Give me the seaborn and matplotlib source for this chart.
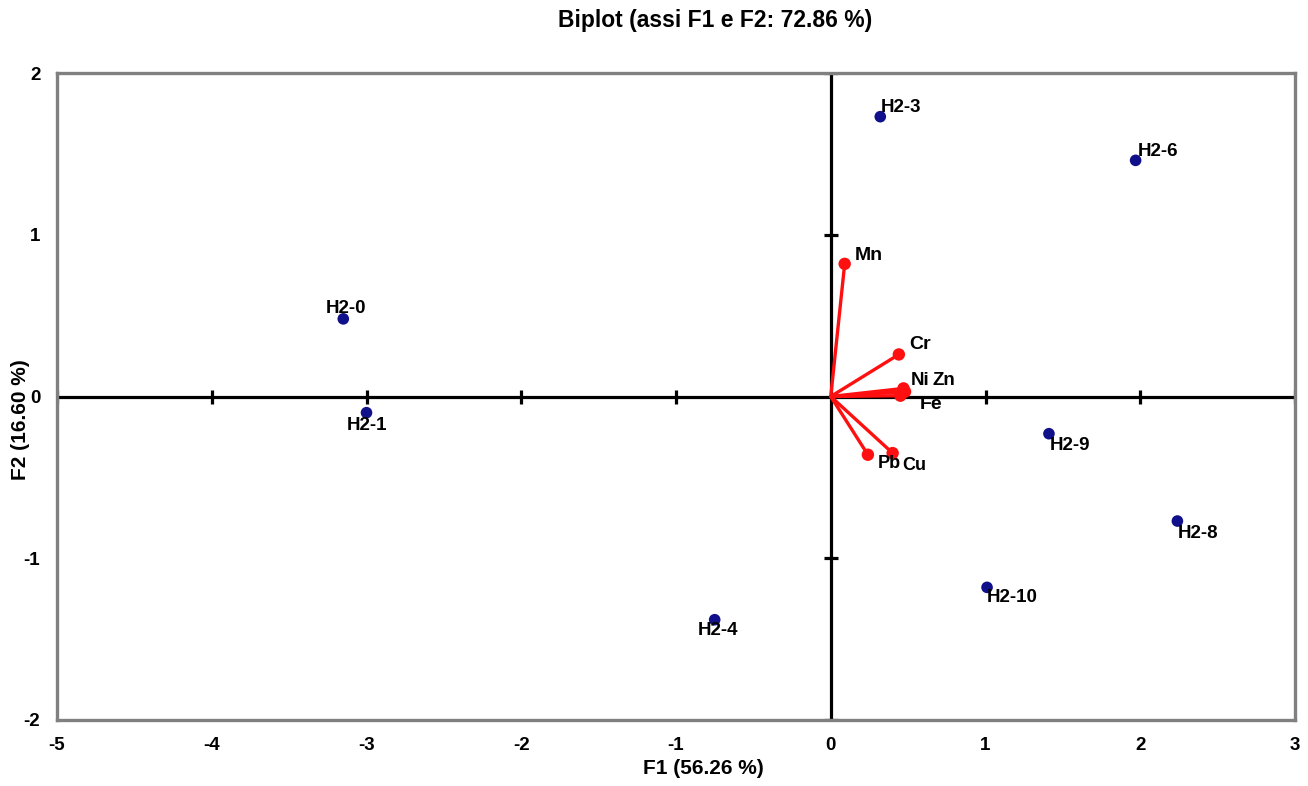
import matplotlib
matplotlib.use("Agg")
import matplotlib.pyplot as plt
import seaborn as sns
import pandas as pd
import numpy as np

# Observations (scores on F1/F2)
obs_names = ["H2-0", "H2-1", "H2-3", "H2-4", "H2-6", "H2-9", "H2-8", "H2-10"]
obs_f1 = [-3.15, -3.00, 0.32, -0.75, 1.97, 1.41, 2.24, 1.01]
obs_f2 = [0.48, -0.10, 1.73, -1.38, 1.46, -0.23, -0.77, -1.18]

# Variables (loadings on F1/F2)
var_names = ["Mn", "Cr", "Ni", "Zn", "Fe", "Pb", "Cu"]
var_f1 = [0.09, 0.44, 0.47, 0.48, 0.45, 0.24, 0.40]
var_f2 = [0.82, 0.26, 0.05, 0.03, 0.005, -0.36, -0.35]

title = "Biplot (assi F1 e F2: 72.86 %)"
xlabel = "F1 (56.26 %)"
ylabel = "F2 (16.60 %)"
xticks = [-5, -4, -3, -2, -1, 0, 1, 2, 3]
yticks = [-2, -1, 0, 1, 2]

sns.set_style("white")
plt.rcParams["font.family"] = ["Liberation Sans", "DejaVu Sans"]
plt.rcParams["font.weight"] = "bold"
plt.rcParams["text.color"] = "black"
plt.rcParams["axes.labelcolor"] = "black"
plt.rcParams["xtick.color"] = "black"
plt.rcParams["ytick.color"] = "black"

fig = plt.figure(figsize=(13.08, 7.86), dpi=100)
ax = fig.add_axes([57 / 1308, 1 - 720 / 786, 1238 / 1308, 647 / 786])

ax.set_xlim(xticks[0], xticks[-1])
ax.set_ylim(yticks[0], yticks[-1])

# Zero axes with crossing ticks
ax.axhline(0, color="black", lw=2.3, zorder=1)
ax.axvline(0, color="black", lw=2.3, zorder=1)
xt_inner = [t for t in xticks if t != 0]
yt_inner = [t for t in yticks if t != 0]
ax.plot(xt_inner, [0] * len(xt_inner), ls="none", marker="|", ms=10, mew=2.3, color="black", zorder=1)
ax.plot([0] * len(yt_inner), yt_inner, ls="none", marker="_", ms=10, mew=2.3, color="black", zorder=1)

# Variable vectors
for name, vx, vy in zip(var_names, var_f1, var_f2):
    ax.plot([0, vx], [0, vy], color="#ff1010", lw=2.4, zorder=2, solid_capstyle="round")
vdf = pd.DataFrame({"F1": var_f1, "F2": var_f2, "name": var_names})
sns.scatterplot(data=vdf, x="F1", y="F2", color="#ff1010", s=80, edgecolor="none", ax=ax, zorder=3)

var_offsets = {"Mn": (10, 8, 14), "Cr": (10, 10, 14), "Ni": (7, 8, 13.5), "Zn": (27, 11, 13.5),
               "Fe": (19, -9, 14), "Pb": (10, -9, 13), "Cu": (10, -12, 13)}
for name, vx, vy in zip(var_names, var_f1, var_f2):
    dx, dy, fs = var_offsets[name]
    ax.annotate(name, (vx, vy), xytext=(dx, dy), textcoords="offset pixels",
                ha="left", va="center", fontsize=fs, fontweight="bold", zorder=4)

# Observation points
odf = pd.DataFrame({"F1": obs_f1, "F2": obs_f2, "name": obs_names})
sns.scatterplot(data=odf, x="F1", y="F2", color="#10108a", s=70, edgecolor="none", ax=ax, zorder=3)

obs_offsets = {"H2-0": (3, 10, "center"), "H2-1": (0, -13, "center"),
               "H2-3": (0, 9, "left"), "H2-4": (3, -11, "center"),
               "H2-6": (2, 9, "left"), "H2-9": (1, -12, "left"),
               "H2-8": (0, -12, "left"), "H2-10": (0, -10, "left")}
for name, ox, oy in zip(obs_names, obs_f1, obs_f2):
    dx, dy, ha = obs_offsets[name]
    ax.annotate(name, (ox, oy), xytext=(dx, dy), textcoords="offset pixels",
                ha=ha, va="center", fontsize=13.5, fontweight="bold", zorder=4)

# Frame and ticks
for sp in ax.spines.values():
    sp.set_color("#808080")
    sp.set_linewidth(2.4)
ax.set_xticks(xticks)
ax.set_yticks(yticks)
ax.set_xticklabels([str(t) for t in xticks], fontsize=13.5, fontweight="bold")
ax.set_yticklabels([str(t) for t in yticks], fontsize=13.5, fontweight="bold")
ax.tick_params(axis="x", length=0, pad=12)
ax.tick_params(axis="y", length=0, pad=12)
ax.grid(False)

ax.set_xlabel(xlabel, fontsize=15, fontweight="bold")
ax.set_ylabel(ylabel, fontsize=15, fontweight="bold")
ax.xaxis.set_label_coords(0.522, -0.060)
ax.yaxis.set_label_coords(-0.022, 0.464)

fig.text(715 / 1308, 1 - 20 / 786, title, ha="center", va="center", fontsize=16.5, fontweight="bold")

fig.savefig("out.png", dpi=100)
